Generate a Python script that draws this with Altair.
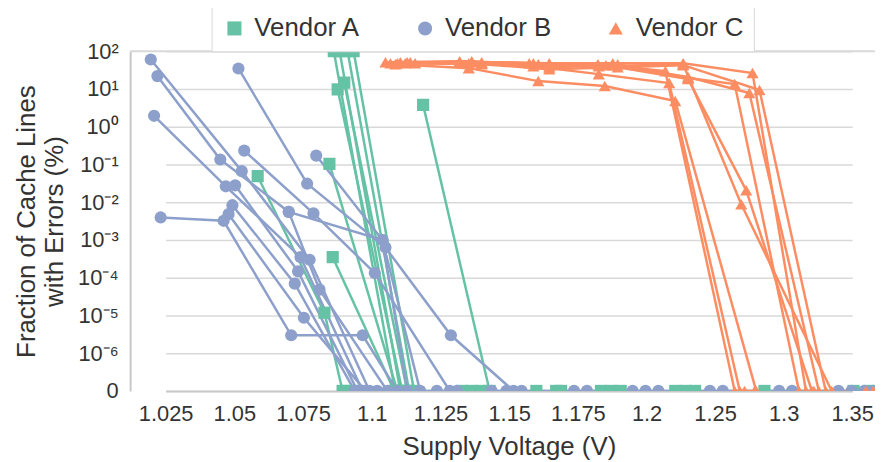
import altair as alt
import pandas as pd

# ---------------- data ----------------
# Vendor A (green squares)
vendor_a_series = (["A1"] * 8 + ["A2"] * 2 + ["A3"] * 2 + ["A4"] * 2 + ["A5"] * 2 +
                   ["A6"] * 2 + ["A7"] * 2 + ["A8"] * 2 + ["A9"] * 2 + ["A10"] * 14)
vendor_a_volts = [1.0585, 1.0828, 1.0894, 1.0912, 1.0938, 1.1328, 1.1364, 1.14,
                  1.0846, 1.1093,
                  1.0858, 1.1082,
                  1.0876, 1.1111,
                  1.09, 1.1129,
                  1.0862, 1.1085,
                  1.0883, 1.1104,
                  1.0912, 1.1136,
                  1.0934, 1.1154,
                  1.1187, 1.1429, 1.1599, 1.1671, 1.1689, 1.1834, 1.187, 1.1906,
                  1.2209, 1.2282, 1.2354, 1.286, 1.351, 1.362]
vendor_a_pct = [0.049, 1.18e-5, 0, 0, 0, 0, 0, 0,
                0.104, 0,
                3.5e-4, 0,
                9.8, 0,
                14.7, 0,
                100, 0,
                100, 0,
                100, 0,
                100, 0,
                3.8, 0, 0, 0, 0, 0, 0, 0,
                0, 0, 0, 0, 0, 0]

# Vendor B (blue circles)
vendor_b_series = (["B1"] * 5 + ["B2"] * 9 + ["B3"] * 4 + ["B4"] * 5 + ["B5"] * 19 +
                   ["B6"] * 4 + ["B7"] * 3 + ["B8"] * 3 + ["B9"] * 3 + ["B10"] * 3 +
                   ["B11"] * 3)
vendor_b_volts = [1.0196, 1.0527, 1.0774, 1.0992, 1.102,
                  1.022, 1.0449, 1.0698, 1.1039, 1.1176, 1.1237, 1.131, 1.1436, 1.149,
                  1.0208, 1.0469, 1.0741, 1.0967,
                  1.0232, 1.0461, 1.0707, 1.0967, 1.1093,
                  1.0515, 1.0765, 1.105, 1.1288, 1.1516, 1.1545, 1.1736, 1.1783, 1.1949,
                  1.1996, 1.2086, 1.2462, 1.2556, 1.2967, 1.3061, 1.34, 1.3495, 1.3589,
                  1.3654,
                  1.0536, 1.0788, 1.1011, 1.1284,
                  1.0503, 1.0732, 1.0948,
                  1.0493, 1.072, 1.0938,
                  1.0479, 1.0753, 1.0977,
                  1.0798, 1.1039, 1.1129,
                  1.0698, 1.081, 1.1057]
vendor_b_pct = [60.5, 0.0667, 2.98e-4, 0, 0,
                22, 0.1355, 0.00556, 0.001, 0, 0, 0, 0, 0,
                1.95, 0.0264, 3.5e-4, 0,
                0.00395, 0.00322, 2.98e-6, 2.98e-6, 0,
                35, 0.031, 6.3e-4, 2.98e-6, 0, 0, 0, 0, 0,
                0, 0, 0, 0, 0, 0, 0, 0, 0,
                0,
                0.233, 0.00505, 1.33e-4, 0,
                0.028, 1.47e-4, 0,
                0.00834, 6.95e-5, 0,
                0.00483, 8.7e-6, 0,
                0.172, 0.001, 0,
                0.00556, 4.83e-5, 0]

# Vendor C (orange triangles)
vendor_c_series = (["C1"] * 8 + ["C2"] * 6 + ["C3"] * 6 + ["C4"] * 8 + ["C5"] * 7 +
                   ["C6"] * 7 + ["C7"] * 7 + ["C8"] * 7 + ["C9"] * 9)
vendor_c_volts = [1.105, 1.132, 1.1573, 1.1823, 1.2137, 1.2643, 1.2715, 1.2788,
                  1.1068, 1.1364, 1.1588, 1.1826, 1.2165, 1.268,
                  1.1086, 1.1353, 1.1606, 1.1848, 1.2209, 1.28,
                  1.1104, 1.14, 1.1646, 1.1877, 1.2267, 1.2773, 1.3163, 1.3221,
                  1.1122, 1.14, 1.1646, 1.1895, 1.2303, 1.2643, 1.3112,
                  1.114, 1.1364, 1.1646, 1.1877, 1.2303, 1.275, 1.3257,
                  1.1158, 1.14, 1.1646, 1.1895, 1.2267, 1.2824, 1.3307,
                  1.1129, 1.132, 1.1588, 1.1852, 1.2303, 1.2727, 1.3206,
                  1.1093, 1.1353, 1.1606, 1.1826, 1.2267, 1.2691, 1.3351, 1.36, 1.3654]
vendor_c_pct = [51.4, 54.6, 48.3, 45.5, 29.8, 0, 0, 0,
                48.3, 54.6, 40.3, 24.8, 14.4, 0,
                45.5, 35.7, 16.2, 12, 4.83, 0,
                51.4, 51.4, 48.3, 48.3, 48.3, 26.4, 0, 0,
                48.3, 48.3, 42.8, 45.5, 19.5, 13.5, 0,
                51.4, 51.4, 37.9, 42.8, 20.7, 7.85, 0,
                48.3, 45.5, 33.6, 37.9, 42.8, 9.4, 0,
                51.4, 51.4, 48.3, 42.8, 18.3, 0.0207, 0,
                48.3, 48.3, 45.5, 40.3, 45.5, 0.00886, 0, 0, 0]

vendors = ["Vendor A", "Vendor B", "Vendor C"]
vendor_colors = ["#66c2a5", "#8da0cb", "#fc8d62"]
vendor_shapes = ["square", "circle", "triangle-up"]
x_ticks = [1.025, 1.05, 1.075, 1.1, 1.125, 1.15, 1.175, 1.2, 1.25, 1.3, 1.35]
y_ticks = [-7, -6, -5, -4, -3, -2, -1, 0, 1, 2]

# ---------------- table ----------------
rows = []
for name, sers, volts, pcts in [
    ("Vendor A", vendor_a_series, vendor_a_volts, vendor_a_pct),
    ("Vendor B", vendor_b_series, vendor_b_volts, vendor_b_pct),
    ("Vendor C", vendor_c_series, vendor_c_volts, vendor_c_pct),
]:
    for s, v, p in zip(sers, volts, pcts):
        rows.append({"vendor": name, "series": s, "volt": v, "pct": p})
df = pd.DataFrame(rows)

W, H = 750, 342
FONT = "Liberation Sans"
TXT = "#333333"

x_enc = alt.X(
    "volt:Q",
    scale=alt.Scale(domain=[1.025, 1.2, 1.35], range=[35.7, 520, 727]),
    axis=alt.Axis(
        values=x_ticks, format=".3~f", title="Supply Voltage (V)",
        grid=False, ticks=False, labelPadding=13, titlePadding=9,
        domainColor="#c8c8c8", domainWidth=2,
    ),
)
y_label_expr = ("datum.value == -7 ? '0' : '10' + ['\u207b\u2076','\u207b\u2075','\u207b\u2074',"
                "'\u207b\u00b3','\u207b\u00b2','\u207b\u00b9','\u2070','\u00b9','\u00b2'][datum.value + 6]")
y_enc = alt.Y(
    "ly:Q",
    scale=alt.Scale(domain=[-7, 2], nice=False, zero=False),
    axis=alt.Axis(
        values=y_ticks, labelExpr=y_label_expr,
        title=["Fraction of Cache Lines", "with Errors (%)"],
        grid=True, gridColor="#d9d9d9", gridWidth=1.5, ticks=False,
        labelPadding=12, titlePadding=10,
        domainColor="#c8c8c8", domainWidth=2,
    ),
)
legend = alt.Legend(
    title=None, orient="none", legendX=82, legendY=-46, direction="horizontal",
    strokeColor="#d9d9d9", fillColor="white", padding=10,
    labelFontSize=26, labelFont=FONT, labelColor=TXT, symbolSize=200,
    symbolStrokeWidth=0, labelOffset=7, columnPadding=52,
)
color_enc = alt.Color("vendor:N", scale=alt.Scale(domain=vendors, range=vendor_colors), legend=legend)
shape_enc = alt.Shape("vendor:N", scale=alt.Scale(domain=vendors, range=vendor_shapes), legend=legend)

base = alt.Chart(df).transform_calculate(
    ly="datum.pct > 0 ? log(datum.pct) / LN10 : -7"
)
top_rule = alt.Chart(alt.Data(values=[{"ly": 2}])).mark_rule(
    color="#d9d9d9", strokeWidth=2
).encode(y=y_enc)
lines = base.mark_line(strokeWidth=2.5, clip=True).encode(
    x=x_enc, y=y_enc, color=color_enc, detail="series:N"
)
points = base.mark_point(filled=True, size=150, opacity=1, clip=True).encode(
    x=x_enc, y=y_enc, color=color_enc, shape=shape_enc
)

chart = alt.layer(top_rule, lines, points).properties(
    width=W, height=H,
    autosize=alt.AutoSizeParams(type="none"),
    padding={"left": 123, "top": 42, "right": 0, "bottom": 70},
).configure_view(stroke=None).configure_axis(
    labelFont=FONT, titleFont=FONT, labelFontSize=22, titleFontSize=26,
    labelColor=TXT, titleColor=TXT, titleFontWeight="normal", labelFlush=False,
    labelOverlap=False,
)

chart.save("out.html", embed_options={"renderer": "svg", "actions": False})
